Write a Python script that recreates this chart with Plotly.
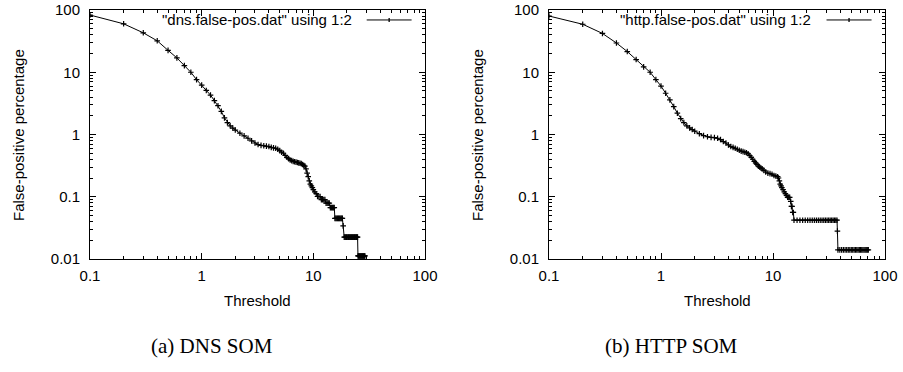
import plotly.graph_objects as go
from plotly.subplots import make_subplots

# ---- DNS SOM data (threshold, false-positive percentage) ----
dns_threshold = [
    0.1, 0.2, 0.3, 0.4, 0.5, 0.6, 0.7, 0.8, 0.9, 1.0,
    1.1, 1.2, 1.3, 1.4, 1.5, 1.6, 1.7, 1.8, 1.9, 2.0,
    2.2, 2.4, 2.6, 2.8, 3.0, 3.2, 3.4, 3.6, 3.8, 4.0,
    4.2, 4.4, 4.6, 4.8, 5.0, 5.2, 5.4, 5.6, 5.8, 6.0,
    6.2, 6.4, 6.6, 6.8, 7.0, 7.2, 7.4, 7.6, 7.8, 8.0,
    8.2, 8.4, 8.6, 8.8, 9.0, 9.2, 9.4, 9.6, 9.8, 10.0,
    10.3, 10.6, 10.9, 11.2, 11.5, 11.8, 12.1, 12.4, 12.7, 13.0,
    13.3, 13.6, 13.9, 14.2, 14.5, 14.8, 15.1, 15.4, 15.6, 15.9,
    16.2, 16.5, 16.8, 17.1, 17.4, 17.7, 18.0, 18.2, 18.5, 18.9,
    19.2, 19.5, 19.8, 20.1, 20.4, 20.7, 21.0, 21.3, 21.6, 21.9,
    22.2, 22.5, 22.8, 23.1, 23.4, 23.7, 24.0, 24.3, 24.6, 24.9,
    25.1, 25.4, 25.7, 26.0, 26.3, 26.6, 26.9, 27.2, 27.5, 27.8,
    28.1, 28.4, 28.7, 29.0,
]
dns_fp = [
    83, 60, 43, 32, 22.5, 17, 12.8, 10, 7.6, 6.2,
    5.1, 4.3, 3.5, 2.9, 2.35, 1.85, 1.55, 1.38, 1.27, 1.18,
    1.05, 0.95, 0.87, 0.79, 0.73, 0.69, 0.67, 0.66, 0.65, 0.64,
    0.62, 0.61, 0.60, 0.58, 0.55, 0.52, 0.50, 0.46, 0.43, 0.41,
    0.39, 0.38, 0.37, 0.365, 0.36, 0.355, 0.35, 0.345, 0.34, 0.33,
    0.32, 0.31, 0.28, 0.24, 0.21, 0.18, 0.16, 0.15, 0.14, 0.13,
    0.12, 0.112, 0.101, 0.101, 0.101, 0.09, 0.09, 0.09, 0.09, 0.079,
    0.079, 0.079, 0.079, 0.067, 0.067, 0.067, 0.067, 0.067, 0.045, 0.045,
    0.045, 0.045, 0.045, 0.045, 0.045, 0.045, 0.045, 0.045, 0.034, 0.0225,
    0.0225, 0.0225, 0.0225, 0.0225, 0.0225, 0.0225, 0.0225, 0.0225, 0.0225, 0.0225,
    0.0225, 0.0225, 0.0225, 0.0225, 0.0225, 0.0225, 0.0225, 0.0225, 0.0225, 0.0225,
    0.0112, 0.0112, 0.0112, 0.0112, 0.0112, 0.0112, 0.0112, 0.0112, 0.0112, 0.0112,
    0.0112, 0.0112, 0.0112, 0.0112,
]

# ---- HTTP SOM data ----
http_threshold = [
    0.1, 0.2, 0.3, 0.4, 0.5, 0.6, 0.7, 0.8, 0.9, 1.0,
    1.1, 1.2, 1.3, 1.4, 1.5, 1.6, 1.7, 1.8, 1.9, 2.0,
    2.2, 2.4, 2.6, 2.8, 3.0, 3.2, 3.4, 3.6, 3.8, 4.0,
    4.2, 4.4, 4.6, 4.8, 5.0, 5.2, 5.4, 5.6, 5.8, 6.0,
    6.2, 6.4, 6.6, 6.8, 7.0, 7.2, 7.4, 7.6, 7.8, 8.0,
    8.3, 8.6, 9.0, 9.4, 9.8, 10.2, 10.6, 11.0, 11.2, 11.4,
    11.6, 11.8, 12.0, 12.3, 12.6, 12.9, 13.2, 13.5, 13.8, 14.1,
    14.4, 14.6, 14.8, 15.0, 15.2, 15.4, 16.4, 17.4, 18.4, 19.4,
    20.4, 21.4, 22.4, 23.4, 24.4, 25.4, 26.4, 27.4, 28.4, 29.4,
    30.4, 31.4, 32.4, 33.4, 34.4, 35.4, 36.4, 37.3, 37.6, 38.0,
    39.5, 41.0, 42.5, 44.0, 45.5, 47.0, 48.5, 50.0, 51.5, 53.0,
    54.5, 56.0, 57.5, 59.0, 60.5, 62.0, 63.5, 65.0, 66.5, 68.0,
    69.5, 71.0,
]
http_fp = [
    80, 59, 42, 29.5, 21.5, 16, 12.2, 10, 7.6, 6.0,
    4.6, 3.6, 2.8, 2.2, 1.8, 1.55, 1.38, 1.28, 1.2, 1.13,
    1.03, 0.96, 0.92, 0.90, 0.89, 0.87, 0.83, 0.77, 0.73, 0.68,
    0.64, 0.62, 0.60, 0.58, 0.56, 0.54, 0.53, 0.52, 0.51, 0.49,
    0.46, 0.43, 0.40, 0.37, 0.35, 0.33, 0.31, 0.30, 0.29, 0.28,
    0.265, 0.25, 0.24, 0.235, 0.23, 0.22, 0.215, 0.21, 0.20, 0.18,
    0.16, 0.15, 0.14, 0.13, 0.12, 0.112, 0.105, 0.098, 0.098, 0.098,
    0.084, 0.07, 0.07, 0.056, 0.056, 0.042, 0.042, 0.042, 0.042, 0.042,
    0.042, 0.042, 0.042, 0.042, 0.042, 0.042, 0.042, 0.042, 0.042, 0.042,
    0.042, 0.042, 0.042, 0.042, 0.042, 0.042, 0.042, 0.042, 0.028, 0.014,
    0.014, 0.014, 0.014, 0.014, 0.014, 0.014, 0.014, 0.014, 0.014, 0.014,
    0.014, 0.014, 0.014, 0.014, 0.014, 0.014, 0.014, 0.014, 0.014, 0.014,
    0.014, 0.014,
]

legend_labels = ['"dns.false-pos.dat" using 1:2', '"http.false-pos.dat" using 1:2']
captions = ["(a) DNS SOM", "(b) HTTP SOM"]
x_title = "Threshold"
y_title = "False-positive percentage"

W, H = 903, 372
FONT = "Liberation Sans, Arial, Helvetica, sans-serif"
FS = 15

fig = make_subplots(rows=1, cols=2)

line_style = dict(color="black", width=1)
marker_style = dict(symbol="cross-thin", size=4, line=dict(color="black", width=1.2), color="black")

fig.add_trace(go.Scatter(x=dns_threshold, y=dns_fp, mode="lines+markers",
                         line=line_style, marker=marker_style, showlegend=False), row=1, col=1)
fig.add_trace(go.Scatter(x=http_threshold, y=http_fp, mode="lines+markers",
                         line=line_style, marker=marker_style, showlegend=False), row=1, col=2)

# plot-area geometry (pixels)
left_px = [(90, 425), (549, 885)]
top_px, bot_px = 10, 259

axis_common = dict(
    type="log", showline=True, linecolor="black", linewidth=1, mirror="allticks",
    ticks="inside", ticklen=6, tickcolor="black", tickwidth=1,
    showgrid=False, zeroline=False, dtick=1, automargin=False,
    tickfont=dict(family=FONT, size=FS, color="black"),
    minor=dict(ticks="inside", ticklen=3, tickcolor="black", tickwidth=1, showgrid=False),
)

for i, (l, r) in enumerate(left_px):
    xa = "xaxis" if i == 0 else "xaxis2"
    ya = "yaxis" if i == 0 else "yaxis2"
    fig.update_layout({
        xa: dict(axis_common, range=[-1, 2], domain=[l / W, r / W], ticklabelstandoff=3),
        ya: dict(axis_common, range=[-2, 2], domain=[1 - bot_px / H, 1 - top_px / H], ticklabelstandoff=6),
    })

annotations = []
shapes = []
for i, (l, r) in enumerate(left_px):
    cx = (l + r) / 2
    suffix = "" if i == 0 else "2"
    # x axis title
    annotations.append(dict(text=x_title, x=cx / W, y=1 - 300 / H, xref="paper", yref="paper",
                            showarrow=False, xanchor="center", yanchor="middle",
                            font=dict(family=FONT, size=FS, color="black")))
    # y axis title
    annotations.append(dict(text=y_title, x=(l - 72) / W, y=1 - 135 / H, xref="paper", yref="paper",
                            showarrow=False, textangle=-90, xanchor="center", yanchor="middle",
                            font=dict(family=FONT, size=FS, color="black")))
    # caption
    annotations.append(dict(text=captions[i], x=(cx - 46) / W, y=1 - 346 / H, xref="paper", yref="paper",
                            showarrow=False, xanchor="center", yanchor="middle",
                            font=dict(family="Liberation Serif, DejaVu Serif, serif", size=21, color="black")))
    # gnuplot-style key: text then line sample on the right
    annotations.append(dict(text=legend_labels[i], x=0.787, y=0.96,
                            xref=f"x{suffix} domain", yref=f"y{suffix} domain",
                            showarrow=False, xanchor="right", yanchor="middle",
                            font=dict(family=FONT, size=FS, color="black")))
    shapes.append(dict(type="line", x0=0.826, x1=0.96, y0=0.96, y1=0.96,
                       xref=f"x{suffix} domain", yref=f"y{suffix} domain",
                       line=dict(color="black", width=1)))
    shapes.append(dict(type="line", x0=0.893, x1=0.893, y0=0.952, y1=0.968,
                       xref=f"x{suffix} domain", yref=f"y{suffix} domain",
                       line=dict(color="black", width=1.3)))

fig.update_layout(
    width=W, height=H, margin=dict(l=0, r=0, t=0, b=0),
    paper_bgcolor="white", plot_bgcolor="white",
    annotations=annotations, shapes=shapes, showlegend=False,
)

fig.write_html("out.html", config={"displayModeBar": False},
               post_script="document.body.style.margin='0';")
